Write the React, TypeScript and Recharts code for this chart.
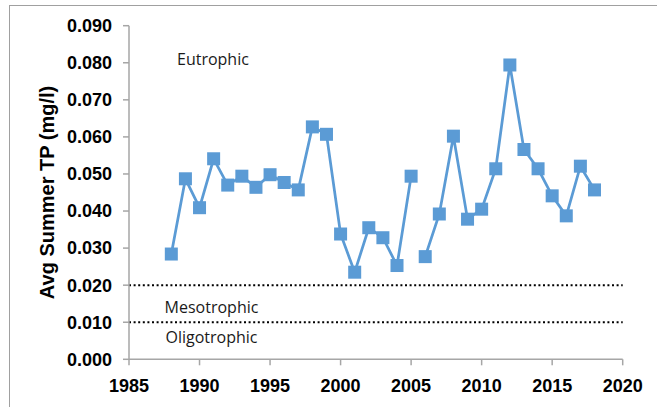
import React from 'react';
import { LineChart, Line, XAxis, YAxis, ReferenceLine, ReferenceDot, Label } from 'recharts';

const yearsA = [1988, 1989, 1990, 1991, 1992, 1993, 1994, 1995, 1996, 1997, 1998, 1999, 2000, 2001, 2002, 2003, 2004, 2005];
const tpA = [0.0284, 0.0487, 0.0409, 0.0541, 0.047, 0.0494, 0.0464, 0.0498, 0.0477, 0.0457, 0.0627, 0.0607, 0.0338, 0.0235, 0.0355, 0.0328, 0.0253, 0.0494];
const yearsB = [2006, 2007, 2008, 2009, 2010, 2011, 2012, 2013, 2014, 2015, 2016, 2017, 2018];
const tpB = [0.0277, 0.0392, 0.0602, 0.0378, 0.0405, 0.0514, 0.0794, 0.0566, 0.0514, 0.0441, 0.0387, 0.0521, 0.0457];

const xTicks = [1985, 1990, 1995, 2000, 2005, 2010, 2015, 2020];
const yTicks = [0, 0.01, 0.02, 0.03, 0.04, 0.05, 0.06, 0.07, 0.08, 0.09];
const thresholds = [0.02, 0.01];
const zoneLabels = ['Eutrophic', 'Mesotrophic', 'Oligotrophic'];
const zoneLabelX = [1990.95, 1990.85, 1990.85];
const zoneLabelY = [0.0809, 0.0139, 0.0059];

const segA = yearsA.map((year, i) => ({ year, tp: tpA[i] }));
const segB = yearsB.map((year, i) => ({ year, tp: tpB[i] }));

const BLUE = '#5B9BD5';
const AXIS = '#a6a6a6';

const SquareDot = (props: any) => {
  const { cx, cy } = props;
  if (cx == null || cy == null) return null;
  const s = 13;
  return <rect x={cx - s / 2} y={cy - s / 2} width={s} height={s} fill={BLUE} />;
};

const tickStyle = { fontFamily: 'Liberation Sans, Arial, sans-serif', fontSize: 18, fontWeight: 700, fill: '#000' };

export default function App() {
  return (
    <div style={{ position: 'absolute', left: 0, top: 0, width: 657, height: 407, overflow: 'hidden', background: '#fff' }}>
      <div style={{ position: 'absolute', left: 9, top: 5, width: 700, height: 500, border: '1px solid #a0a0a0' }} />
      <div style={{ position: 'absolute', left: 0, top: 0 }}>
        <LineChart width={657} height={407} margin={{ top: 25.7, right: 34.3, bottom: 7.7, left: 29 }}>
          <XAxis
            type="number"
            dataKey="year"
            domain={[1985, 2020]}
            ticks={xTicks}
            interval={0}
            allowDataOverflow
            stroke={AXIS}
            strokeWidth={1.5}
            tickSize={6}
            tickMargin={14}
            height={40}
            tick={tickStyle}
          />
          <YAxis
            type="number"
            domain={[0, 0.09]}
            ticks={yTicks}
            interval={0}
            allowDataOverflow
            stroke={AXIS}
            strokeWidth={1.5}
            tickSize={6}
            tickMargin={11}
            width={100}
            tick={tickStyle}
            tickFormatter={(v: number) => v.toFixed(3)}
          >
            <Label
              content={(p: any) => {
                const vb = p.viewBox || {};
                const cx = vb.x + 17.7;
                const cy = vb.y + vb.height / 2;
                return (
                  <text
                    x={cx}
                    y={cy}
                    transform={`rotate(-90 ${cx} ${cy})`}
                    textAnchor="middle"
                    dominantBaseline="central"
                    style={{ fontFamily: 'Liberation Sans, Arial, sans-serif', fontSize: 20, fontWeight: 700, fill: '#000' }}
                  >
                    Avg Summer TP (mg/l)
                  </text>
                );
              }}
            />
          </YAxis>
          {thresholds.map((t) => (
            <ReferenceLine key={t} y={t} stroke="#000" strokeWidth={2} strokeDasharray="2 2.6" />
          ))}
          {zoneLabels.map((name, i) => (
            <ReferenceDot
              key={name}
              x={zoneLabelX[i]}
              y={zoneLabelY[i]}
              r={0}
              fill="none"
              stroke="none"
              label={{ value: name, position: 'center', fill: '#1a1a1a', fontSize: 16, fontFamily: 'Open Sans, sans-serif' }}
            />
          ))}
          <Line data={segA} dataKey="tp" stroke={BLUE} strokeWidth={2.75} dot={<SquareDot />} activeDot={false} isAnimationActive={false} />
          <Line data={segB} dataKey="tp" stroke={BLUE} strokeWidth={2.75} dot={<SquareDot />} activeDot={false} isAnimationActive={false} />
        </LineChart>
      </div>
    </div>
  );
}
